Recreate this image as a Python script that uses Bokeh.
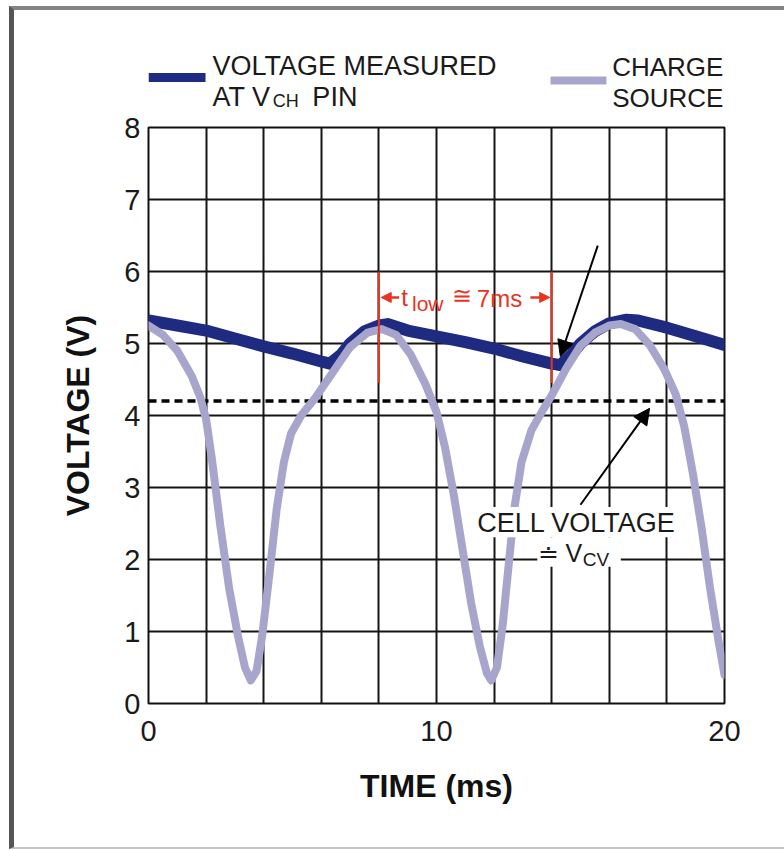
from bokeh.plotting import figure
from bokeh.models import Range1d, FixedTicker, Arrow, NormalHead
from bokeh.layouts import column
from bokeh.core.properties import value
from bokeh.embed import file_html
from bokeh.resources import INLINE

FONT = "Liberation Sans"

# ---------------- data ----------------
time_vch = [0, 1, 2, 3, 4, 5, 6, 6.3, 6.7, 7, 7.5, 8, 8.3, 9, 10, 11, 12, 13, 14,
            14.3, 14.7, 15, 15.5, 16, 16.6, 17, 18, 19, 20]
volt_vch = [5.32, 5.25, 5.18, 5.07, 4.96, 4.86, 4.75, 4.72, 4.85, 5.0, 5.17, 5.25,
            5.27, 5.18, 5.1, 5.02, 4.93, 4.82, 4.72, 4.7, 4.85, 5.0, 5.17, 5.28,
            5.33, 5.32, 5.22, 5.1, 4.98]

time_src = [0, 0.5, 1.0, 1.5, 1.8, 2.0, 2.2, 2.5, 2.8, 3.1, 3.35, 3.55, 3.75, 3.95,
            4.2, 4.45, 4.7, 4.95, 5.3, 5.8, 6.4, 7.0, 7.6, 8.1, 8.6, 9.1, 9.6, 10.0,
            10.3, 10.6, 10.9, 11.2, 11.5, 11.75, 11.9, 12.1, 12.3, 12.5, 12.7, 12.95,
            13.3, 13.7, 14.0, 14.5, 15.0, 15.5, 16.0, 16.4, 16.9, 17.4, 17.9, 18.3,
            18.6, 18.9, 19.2, 19.5, 19.8, 20.0]
volt_src = [5.25, 5.12, 4.9, 4.55, 4.25, 3.95, 3.4, 2.45, 1.6, 0.95, 0.5, 0.32, 0.45,
            0.95, 1.8, 2.7, 3.35, 3.75, 4.0, 4.25, 4.6, 4.95, 5.15, 5.2, 5.12, 4.85,
            4.45, 4.05, 3.55, 2.9, 2.15, 1.4, 0.8, 0.42, 0.32, 0.5, 1.1, 1.9, 2.7,
            3.35, 3.8, 4.08, 4.28, 4.65, 4.97, 5.15, 5.25, 5.27, 5.2, 4.98, 4.65, 4.3,
            3.85, 3.2, 2.45, 1.6, 0.85, 0.4]

cell_voltage = 4.2          # V_CV, dashed line
cv_span = [0, 20]
tlow_marks = [8, 14]        # ms, start/end of t_low
tlow_lo, tlow_hi = 4.45, 6.0

x_ticks = [0, 10, 20]
x_grid = list(range(0, 21, 2))
y_ticks = list(range(0, 9))

BLUE = "#1f2b80"
PURPLE = "#a8a5cd"
RED = "#e8341f"
GRID = "#151515"
INK = "#1a1a1a"

# geometry: canvas starts at page x=14, y=10
W = 770
LH = 102
H = 735
MB_LEFT, MB_RIGHT = 134, 60


def ltext(fig, x, y, t, size, color=INK, align="left"):
    fig.text(x=[x], y=[y], text=[t], text_font=value(FONT), text_font_size=f"{size}px",
             text_color=color, text_align=align, text_baseline="middle")


# ---------------- legend strip ----------------
leg = figure(width=W, height=LH, x_range=Range1d(0, 20), y_range=Range1d(LH, 0),
             toolbar_location=None, output_backend="svg",
             min_border_left=MB_LEFT, min_border_right=MB_RIGHT,
             min_border_top=0, min_border_bottom=0,
             x_axis_location=None, y_axis_location=None)
leg.grid.visible = False
leg.outline_line_color = None

leg.line([0.0, 1.98], [67, 67], line_color=BLUE, line_width=9)
leg.line([13.96, 15.9], [70, 70], line_color=PURPLE, line_width=8)

ltext(leg, 2.22, 55.5, "VOLTAGE MEASURED", 27)
ltext(leg, 2.22, 86, "AT V", 27)
ltext(leg, 4.31, 90, "CH", 18)
ltext(leg, 5.69, 86, "PIN", 27)
ltext(leg, 16.1, 56, "CHARGE", 26)
ltext(leg, 16.1, 87, "SOURCE", 26)

# ---------------- main chart ----------------
p = figure(width=W, height=H, x_range=Range1d(0, 20), y_range=Range1d(0, 8),
           toolbar_location=None, output_backend="svg",
           min_border_top=15, min_border_left=MB_LEFT, min_border_right=MB_RIGHT,
           min_border_bottom=H - 15 - 576)

p.outline_line_color = "#111111"
p.outline_line_width = 2

p.xaxis.ticker = FixedTicker(ticks=x_ticks)
p.yaxis.ticker = FixedTicker(ticks=y_ticks)
p.xgrid.ticker = FixedTicker(ticks=x_grid)
p.ygrid.ticker = FixedTicker(ticks=y_ticks)
for g in (p.xgrid, p.ygrid):
    g.grid_line_color = GRID
    g.grid_line_width = 2
    g.grid_line_alpha = 1

for ax in (p.xaxis, p.yaxis):
    ax.axis_line_color = None
    ax.major_tick_line_color = None
    ax.minor_tick_line_color = None
    ax.major_tick_out = 0
    ax.major_label_text_font = FONT
    ax.major_label_text_font_size = "29px"
    ax.major_label_text_color = INK
    ax.axis_label_text_font = FONT
    ax.axis_label_text_font_size = "32px"
    ax.axis_label_text_font_style = "bold"
    ax.axis_label_text_color = "#111111"

p.xaxis.axis_label = "TIME (ms)"
p.yaxis.axis_label = "VOLTAGE (V)"
p.xaxis.major_label_standoff = 17
p.yaxis.major_label_standoff = 8
p.xaxis.axis_label_standoff = 24
p.yaxis.axis_label_standoff = 25

# dashed cell-voltage line
p.line(cv_span, [cell_voltage, cell_voltage], line_color="black", line_width=3.5,
       line_dash="8 5")

# curves
p.line(time_vch, volt_vch, line_color=BLUE, line_width=12, line_join="round",
       line_cap="round")
p.line(time_src, volt_src, line_color=PURPLE, line_width=8, line_join="round",
       line_cap="round")

# t_low markers
p.segment(x0=tlow_marks, y0=[tlow_lo] * 2, x1=tlow_marks, y1=[tlow_hi] * 2,
          line_color=RED, line_width=2)
ay = 5.64
p.add_layout(Arrow(end=NormalHead(size=10, fill_color=RED, line_color=RED),
                   x_start=8.7, y_start=ay, x_end=8.08, y_end=ay,
                   line_color=RED, line_width=2.5))
p.add_layout(Arrow(end=NormalHead(size=10, fill_color=RED, line_color=RED),
                   x_start=13.26, y_start=ay, x_end=13.93, y_end=ay,
                   line_color=RED, line_width=2.5))
ltext(p, 8.78, 5.64, "t", 24, color=RED)
ltext(p, 9.15, 5.55, "low", 21, color=RED)
ltext(p, 10.87, 5.66, "\u2245", 24, color=RED, align="center")
ltext(p, 11.4, 5.625, "7ms", 24, color=RED)

# black pointer arrows
p.add_layout(Arrow(end=NormalHead(size=16, fill_color="black", line_color="black"),
                   x_start=15.6, y_start=6.36, x_end=14.3, y_end=4.82,
                   line_color="black", line_width=2))
p.add_layout(Arrow(end=NormalHead(size=16, fill_color="black", line_color="black"),
                   x_start=15.0, y_start=2.76, x_end=17.4, y_end=4.1,
                   line_color="black", line_width=2))

# cell voltage annotation with white backing
p.quad(left=[11.1, 13.5], right=[18.6, 16.4], bottom=[2.31, 1.9], top=[2.73, 2.31],
       fill_color="white", line_color=None)
ltext(p, 14.86, 2.51, "CELL VOLTAGE", 27, align="center")
ltext(p, 13.9, 2.09, "\u2250", 25, align="center")
ltext(p, 14.48, 2.09, "V", 25)
ltext(p, 15.08, 2.0, "CV", 19)

layout = column(leg, p, spacing=0,
                styles={"margin-left": "9px", "margin-top": "6px",
                        "border-top": "4px solid #858585",
                        "border-left": "5px solid #555555",
                        "border-bottom": "2px solid #c4c4c4"})

open("out.html", "w").write(file_html(layout, INLINE))
